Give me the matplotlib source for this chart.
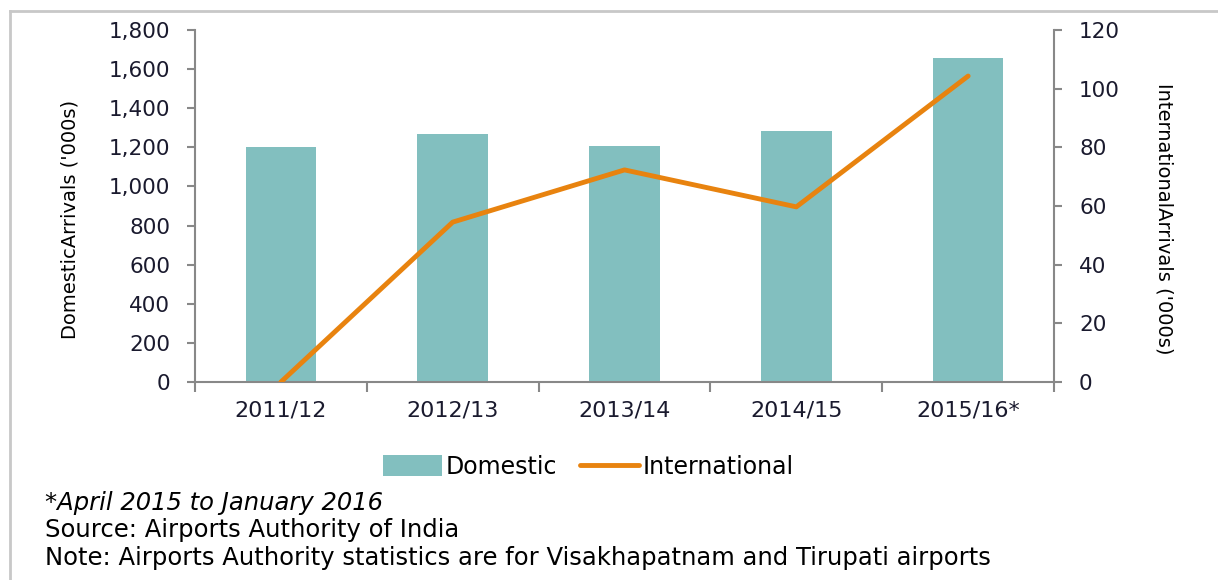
import matplotlib.pyplot as plt
import numpy as np
from matplotlib.lines import Line2D

years = ['2011/12', '2012/13', '2013/14', '2014/15', '2015/16*']
domestic = [1200, 1268, 1207, 1283, 1657]
international = [0, 54.5, 72.3, 59.7, 104.3]
notes = ['*April 2015 to January 2016',
         'Source: Airports Authority of India',
         'Note: Airports Authority statistics are for Visakhapatnam and Tirupati airports']

bar_col = '#82BFBF'
line_col = '#E8830F'
axis_col = '#888888'
txt_col = '#1a1a2e'

fig = plt.figure(figsize=(12.18, 5.8), dpi=100)
ax = fig.add_axes([0.1601, 0.3414, 0.7053, 0.6069])
x = np.arange(len(years))

ax.bar(x, domestic, width=0.41, color=bar_col, label='Domestic', zorder=2)
ax.set_xlim(-0.5, len(years) - 0.5)
ax.set_ylim(0, 1800)
ax.set_yticks(np.arange(0, 1801, 200))
ax.set_yticklabels([f'{v:,}' for v in range(0, 1801, 200)])

ax2 = ax.twinx()
ax2.plot(x, international, color=line_col, lw=3.5, label='International',
         solid_capstyle='round', zorder=3)
ax2.set_ylim(0, 120)
ax2.set_yticks(np.arange(0, 121, 20))

for a in (ax, ax2):
    for s in a.spines.values():
        s.set_visible(False)
    a.tick_params(axis='y', colors=axis_col, labelcolor=txt_col, labelsize=15.5,
                  length=6, width=1.5, pad=12)
ax.spines['left'].set_visible(True)
ax.spines['bottom'].set_visible(True)
ax2.spines['right'].set_visible(True)
for s in (ax.spines['left'], ax.spines['bottom'], ax2.spines['right']):
    s.set_color(axis_col)
    s.set_linewidth(1.5)

ax.set_xticks(x)
ax.set_xticklabels(years)
ax.set_xticks(np.arange(-0.5, len(years)), minor=True)
ax.tick_params(axis='x', which='major', length=0, pad=13, labelsize=16, labelcolor=txt_col)
ax.tick_params(axis='x', which='minor', length=7, width=1.5, color=axis_col)

ax.set_ylabel("DomesticArrivals ('000s)", fontsize=14)
ax.yaxis.set_label_coords(-0.135, 0.463)
ax2.set_ylabel("InternationalArrivals ('000s)", fontsize=14, rotation=270, va='center')
ax2.yaxis.set_label_coords(1.128, 0.464)

h1, l1 = ax.get_legend_handles_labels()
h2, l2 = ax2.get_legend_handles_labels()
fig.legend(h1 + h2, l1 + l2, loc='center', bbox_to_anchor=(0.483, 0.195), ncol=2,
           frameon=False, fontsize=17, handlelength=2.5, handleheight=1.0,
           columnspacing=1.0, handletextpad=0.15)

ys = [0.133, 0.086, 0.038]
for i, (t, y) in enumerate(zip(notes, ys)):
    fig.text(0.037, y, t, fontsize=17.5, family='DejaVu Sans', color='black',
             style='italic' if i == 0 else 'normal', va='center')

fig.add_artist(Line2D([0.0082, 0.0082], [0, 0.981], color='#c8c8c8', lw=2))
fig.add_artist(Line2D([0.0082, 1], [0.981, 0.981], color='#c8c8c8', lw=2))

fig.savefig('out.png', dpi=100)
